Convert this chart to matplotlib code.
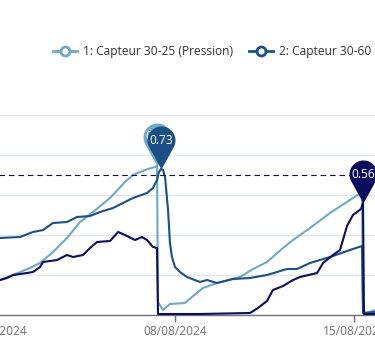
import numpy as np
import pandas as pd
import matplotlib
matplotlib.use("Agg")
import matplotlib.pyplot as plt
import matplotlib.dates as mdates
from matplotlib.path import Path

# --- DATA (hours since 01/08/2024 00:00) ---
START = pd.Timestamp("2024-08-01")

s1_hours = [0, 4.2, 16.4, 32.3, 41.7, 53.8, 66.9, 79.1, 91.3, 107.2, 121.2, 128.7,
            135.3, 142.7, 149.3, 151.2, 152.1, 156.8, 163.3, 177.4, 183.9, 194.2,
            207.3, 228.9, 241.0, 254.1, 269.1, 278.5, 294.4, 313.1, 331.8, 343.1,
            344.0, 347.7, 355.2, 365.0]
s1_vals = [0.165, 0.175, 0.200, 0.235, 0.26, 0.315, 0.385, 0.465, 0.515, 0.585, 0.665, 0.70,
           0.715, 0.73, 0.74, 0.745, 0.065, 0.025, 0.055, 0.06, 0.09, 0.135,
           0.16, 0.19, 0.23, 0.265, 0.335, 0.375, 0.435, 0.51, 0.575, 0.615,
           0.015, 0.01, 0.025, 0.04]

s2_hours = [0, 4.2, 22.9, 35.1, 44.5, 53.8, 66.9, 76.3, 88.5, 97.8, 110.0, 119.3,
            128.7, 141.8, 147.4, 151.2, 153.0, 154.9, 156.8, 158.7, 161.5, 163.3,
            165.2, 168.0, 172.7, 179.2, 191.4, 198.0, 207.3, 222.3, 238.2, 254.1,
            272.8, 282.2, 294.4, 313.1, 331.8, 343.1, 344.0, 355.2, 365.0]
s2_vals = [0.38, 0.385, 0.39, 0.415, 0.425, 0.46, 0.465, 0.49, 0.495, 0.515, 0.535, 0.56,
           0.585, 0.61, 0.635, 0.675, 0.715, 0.73, 0.725, 0.69, 0.525, 0.36,
           0.29, 0.24, 0.215, 0.19, 0.165, 0.175, 0.16, 0.18, 0.185, 0.20,
           0.23, 0.23, 0.26, 0.29, 0.325, 0.345, 0.01, 0.015, 0.02]

s3_hours = [0, 4.2, 10.8, 16.4, 29.5, 35.1, 41.7, 44.5, 57.6, 66.9, 72.5, 81.9,
            88.5, 95.0, 107.2, 114.7, 121.2, 130.6, 137.1, 141.8, 147.4, 151.2,
            152.1, 191.4, 238.2, 245.7, 254.1, 259.7, 269.1, 278.5, 285.0, 301.0,
            306.6, 315.9, 322.5, 329.0, 334.6, 342.1, 344.0, 344.9, 355.2, 365.0]
s3_vals = [0.17, 0.175, 0.185, 0.20, 0.21, 0.215, 0.24, 0.265, 0.275, 0.30, 0.29, 0.30,
           0.335, 0.365, 0.37, 0.415, 0.40, 0.375, 0.39, 0.375, 0.34, 0.335,
           0.005, 0.005, 0.01, 0.035, 0.07, 0.125, 0.145, 0.175, 0.19, 0.21,
           0.26, 0.30, 0.325, 0.445, 0.50, 0.53, 0.56, 0.005, 0.005, 0.005]

legend_names = ["1: Capteur 30-25 (Pression)", "2: Capteur 30-60 (Pression)"]
colors = ["#6fa8c8", "#1c4f85", "#0b0d5e"]
THRESHOLD = 0.70
tick_dates = ["2024-08-01", "2024-08-08", "2024-08-15"]

FONT = ["Open Sans", "DejaVu Sans"]
plt.rcParams["font.family"] = FONT
PX = 0.72  # points per pixel at dpi 100


def to_time(hours):
    return START + pd.to_timedelta(np.array(hours), unit="h")


def pin_path(d=29.0, r=14.0):
    # teardrop marker, tip at origin
    a = np.degrees(np.arccos(r / d))
    ang = np.radians(np.linspace(-90 + a, 270 - a, 80))
    xs = r * np.cos(ang)
    ys = d + r * np.sin(ang)
    verts = np.vstack([[0, 0], np.column_stack([xs, ys]), [0, 0]])
    codes = [Path.MOVETO] + [Path.LINETO] * (len(verts) - 2) + [Path.CLOSEPOLY]
    return Path(verts, codes)


W, H = 375, 343
fig = plt.figure(figsize=(W / 100, H / 100), dpi=100)

# plot area reaches past the picture edges on both sides
x0_px, x1_px = -40, 415
top_px, bot_px = 115, 315
ax = fig.add_axes([x0_px / W, (H - bot_px) / H, (x1_px - x0_px) / W, (bot_px - top_px) / H])

px_per_hour = 25.64 / 24
xmin = START + pd.to_timedelta((x0_px + 4.5) / px_per_hour, unit="h")
xmax = START + pd.to_timedelta((x1_px + 4.5) / px_per_hour, unit="h")

series = [(s1_hours, s1_vals), (s2_hours, s2_vals), (s3_hours, s3_vals)]
for i, (hrs, vals) in enumerate(series):
    ax.plot(to_time(hrs), vals, color=colors[i], lw=1.5, zorder=2 + i,
            solid_joinstyle="round")

ax.axhline(THRESHOLD, color="#0b0d5e", lw=0.8, ls=(0, (5, 3.5)), zorder=5)

# max markers (pins)
pin = pin_path()
for i, (hrs, vals) in enumerate(series):
    k = int(np.argmax(vals))
    t = to_time([hrs[k]])[0]
    ax.plot([t], [vals[k]], marker=pin, ms=2 * 43 * PX, color=colors[i], mew=0,
            zorder=10 + i, clip_on=False)
    ax.annotate(f"{vals[k]:.2f}", (t, vals[k]), xytext=(0, 29 * PX),
                textcoords="offset points", ha="center", va="center",
                color="white", fontsize=12 * PX, zorder=10.5 + i,
                annotation_clip=False)

ax.set_xticks(pd.to_datetime(tick_dates))
ax.xaxis.set_major_formatter(mdates.DateFormatter("%d/%m/%Y"))
ax.set_xlim(xmin, xmax)
ax.set_yticks(np.arange(0, 1.01, 0.2))
ax.set_ylim(0, 1)
ax.grid(axis="y", color="#E0E6F1", lw=1)
ax.set_axisbelow(True)
for s in ["top", "right", "left"]:
    ax.spines[s].set_visible(False)
ax.spines["bottom"].set_color("#6E7079")
ax.spines["bottom"].set_linewidth(1)
ax.tick_params(axis="x", length=5, width=1, color="#6E7079", labelcolor="#6E7079",
               labelsize=12 * PX, pad=2)
ax.tick_params(axis="y", left=False, labelleft=False)

# legend drawn in pixel space
lax = fig.add_axes([0, 0, 1, 1], zorder=20)
lax.set_xlim(0, W)
lax.set_ylim(H, 0)
lax.axis("off")
leg_x = [53, 249]
leg_y = 51
for i, name in enumerate(legend_names):
    x = leg_x[i]
    lax.plot([x, x + 24], [leg_y, leg_y], color=colors[i], lw=2)
    lax.plot([x + 12], [leg_y], marker="o", ms=9 * PX, mfc="white", mec=colors[i], mew=2)
    lax.text(x + 30, leg_y, name, ha="left", va="center", color="#333333",
             fontsize=12 * PX)

fig.savefig("out.png", dpi=100)
